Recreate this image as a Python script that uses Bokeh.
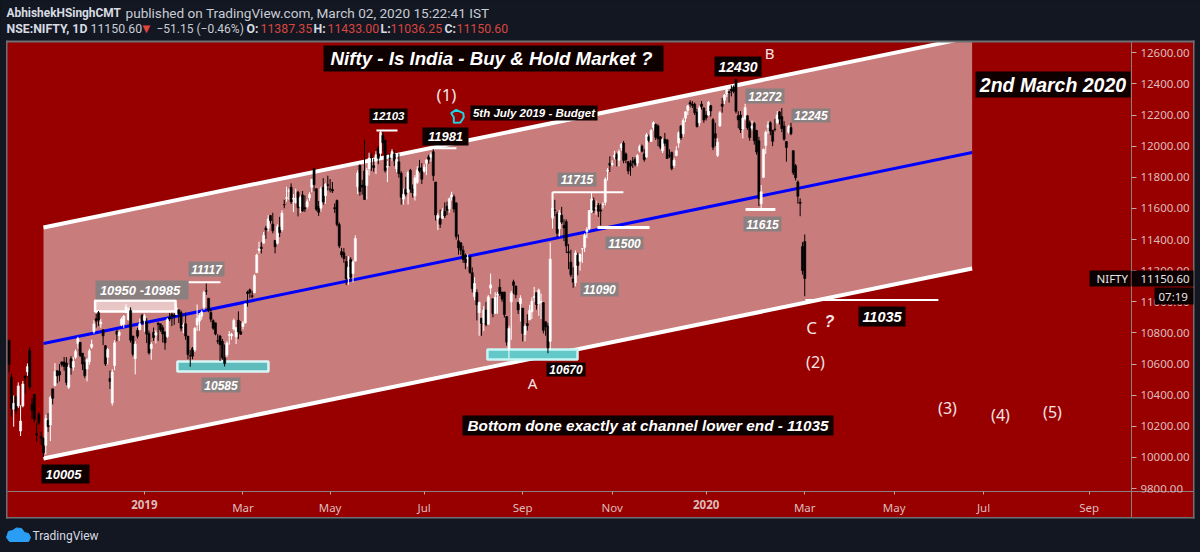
from bokeh.plotting import figure
from bokeh.embed import file_html
from bokeh.resources import INLINE
from bokeh.models import BoxAnnotation, Label, PolyAnnotation, FixedTicker, NumeralTickFormatter, ColumnDataSource, LinearAxis

opens = [10754,10514,10310,10391,10331,10170,10331,10524,10550,10688,10339,10405,10152,10278,10136,10122,10078,10239,10209,
10441,10462,10558,10552,10614,10614,10607,10451,10634,10580,10644,10731,10740,10670,10612,10568,10615,10708,10808,10892,
10930,10860,10820,10718,10644,10508,10350,10591,10810,10784,10853,10856,10931,10885,10944,10780,10635,10817,10821,10913,
10881,10868,10796,10699,10804,10786,10862,10859,10834,10807,10777,10899,10920,10914,10919,10949,10931,10844,10859,10780,10653,10702,10690,
10851,10876,10908,10965,11070,11023,10931,10879,10865,10750,10780,10746,10641,10658,10785,10782,10825,10775,10881,10808,
10842,10864,11063,11077,11039,11058,11187,11330,11351,11377,11474,11473,11554,11500,11395,11376,11481,11463,11625,
11665,11711,11736,11660,11638,11704,11612,11687,11605,11612,11668,11736,11856,11727,11612,11601,11735,11683,11752,
11725,11722,11605,11651,11496,11323,11315,11259,11152,11271,11181,11262,11739,11876,11749,11841,11748,11855,11929,11875,11905,11987,
11954,12069,12039,11865,11923,11929,11949,11855,11900,11826,11660,11722,11703,11845,11725,11681,11768,11860,11861,
11839,11890,11932,11928,11964,11770,11531,11536,11536,11582,11614,11596,11670,11675,11635,11392,11380,11331,11300,11279,11293,11187,11034,
11060,10930,10895,10864,10948,10856,11088,11020,10925,11044,11094,11063,11063,10905,10699,11000,11129,11102,10996,10987,
10960,10790,10860,10884,10936,11028,11059,10986,10996,10995,10872,10845,10746,11542,11590,11565,11470,11556,11491,
11515,11322,11255,11147,11122,11300,11260,11340,11350,11450,11470,11580,11650,11600,11620,11590,11625,11640,11840,11890,
11880,11930,11945,11910,11990,12020,11950,11900,11890,11905,11915,11890,11970,12000,11950,11930,12060,12030,12120,12140,
12130,12060,11970,12045,12040,11940,11960,11875,11940,12020,12130,12080,12180,12230,12280,12270,12270,12220,12150,12270,12245,
12200,12200,12260,12170,12080,11940,12130,12270,12295,12335,12350,12365,12380,12430,12195,12200,12110,12175,12195,12150,12115,12145,12100,
12035,11630,11800,12005,12120,12150,12100,12110,12150,12220,12190,12130,12030,12090,12120,11970,11875,11770,11640,11355,
11387]
highs = [10755,10540,10398,10397,10482,10335,10492,10526,10604,10710,10380,10408,10222,10290,10166,10128,10275,10285,10396,
10441,10606,10558,10600,10616,10646,10645,10596,10651,10646,10695,10775,10740,10671,10647,10638,10699,10757,10883,10922,
10941,10890,10821,10722,10704,10558,10567,10754,10821,10816,10900,10915,10985,10962,10964,10782,10747,10834,10893,10923,
10923,10895,10815,10741,10835,10818,10870,10859,10850,10808,10896,10928,10930,10928,10987,10949,10944,10866,10931,10780,10690,10710,10838,
10983,10928,10945,11072,11119,11023,10956,10888,10865,10792,10788,10762,10726,10747,10812,10801,10892,10829,10939,10876,
10877,10988,11072,11085,11071,11177,11310,11386,11383,11449,11488,11557,11556,11572,11395,11498,11546,11588,11655,
11739,11729,11761,11692,11727,11713,11683,11712,11684,11658,11704,11789,11856,11727,11648,11740,11795,11762,11810,
11789,11770,11632,11657,11510,11347,11345,11294,11294,11286,11267,11427,11845,11883,11784,12041,11860,11958,11957,11920,11968,12000,
12103,12095,12039,11905,11954,11981,11975,11952,11953,11839,11727,11803,11843,11854,11754,11814,11871,11912,11891,
11884,11917,11945,11961,11981,11770,11570,11593,11601,11639,11644,11670,11707,11689,11641,11432,11381,11360,11310,11305,11294,11221,11158,
11080,11000,10895,10973,11000,11044,11181,11020,11062,11064,11146,11064,11064,10908,10846,11071,11142,11102,10996,11042,
10960,10858,10920,10981,11028,11096,11059,11085,11053,10996,10874,10864,11381,11694,11655,11580,11590,11610,11530,
11530,11371,11335,11222,11330,11315,11310,11345,11440,11480,11590,11700,11670,11650,11635,11630,11640,11800,11860,11935,
11910,11970,11958,11980,12020,12034,11960,11905,11910,11930,11930,11950,12010,12010,11980,12085,12075,12110,12160,12145,
12140,12065,12050,12085,12045,11980,11965,11925,12000,12095,12135,12180,12225,12265,12295,12290,12280,12240,12260,12290,12250,
12225,12290,12265,12180,12150,12050,12225,12310,12335,12375,12355,12390,12390,12430,12225,12225,12190,12272,12200,12165,12165,12155,12105,
12060,11750,11985,12100,12160,12160,12105,12175,12225,12225,12245,12160,12030,12135,12150,11975,11885,11780,11665,11384,
11433]
lows = [10547,10262,10198,10279,10318,10138,10322,10410,10525,10436,10249,10224,10102,10210,10079,10004,10020,10164,10105,
10341,10457,10477,10489,10582,10557,10464,10440,10532,10557,10632,10700,10645,10562,10512,10489,10596,10699,10796,10835,
10845,10833,10722,10588,10599,10440,10333,10560,10747,10749,10844,10833,10928,10880,10738,10649,10534,10764,10817,10854,
10808,10735,10661,10628,10750,10733,10749,10808,10739,10692,10767,10876,10844,10852,10919,10864,10811,10798,10756,10631,10583,10631,10678,
10813,10814,10886,10947,11044,10933,10870,10820,10785,10730,10620,10628,10585,10644,10725,10757,10816,10729,10761,10789,
10823,10861,10969,11024,11023,11056,11186,11310,11311,11376,11404,11452,11503,11440,11311,11367,11416,11450,11601,
11644,11655,11629,11576,11630,11549,11570,11578,11577,11599,11648,11703,11710,11583,11552,11579,11624,11631,11714,
11703,11699,11571,11484,11345,11285,11251,11108,11109,11136,11125,11260,11692,11682,11688,11658,11658,11812,11841,11836,11821,11884,
11920,11967,11830,11769,11871,11905,11872,11832,11797,11625,11625,11677,11625,11701,11670,11651,11757,11830,11757,
11830,11814,11887,11901,11777,11523,11461,11475,11535,11538,11558,11573,11650,11574,11400,11303,11302,11250,11210,11226,11180,11060,11010,
10881,10782,10782,10813,10842,10854,11050,10901,10925,10924,11037,11000,10899,10718,10637,10756,11050,11022,10922,10874,
10746,10746,10816,10884,10890,11000,10950,10910,10890,10797,10782,10670,10691,11471,11550,11415,11420,11500,11390,
11313,11210,11158,11090,11100,11170,11200,11250,11320,11410,11460,11570,11570,11560,11545,11490,11600,11620,11780,11835,
11870,11915,11870,11870,11970,11890,11890,11820,11810,11860,11870,11870,11960,11960,11900,11925,12025,12030,12100,12040,
12000,11980,11955,12000,11920,11925,11845,11860,11935,11990,12040,12060,12155,12200,12250,12245,12200,12120,12130,12235,12150,
12165,12195,12190,11975,12000,11930,12125,12215,12270,12315,12280,12320,12340,12210,12115,12085,12050,12165,12105,12035,12100,12010,11945,
11615,11600,11795,11950,12080,12070,12000,12095,12140,12140,12090,12035,11900,12080,12070,11815,11780,11630,11550,11175,
11036]
closes = [10599,10316,10348,10301,10460,10234,10472,10512,10584,10453,10303,10245,10146,10224,10124,10030,10250,10198,10386,
10380,10553,10524,10530,10598,10585,10482,10582,10576,10616,10682,10763,10656,10600,10526,10628,10685,10728,10858,10876,
10883,10869,10782,10601,10693,10488,10549,10737,10791,10805,10888,10908,10967,10951,10754,10663,10729,10779,10859,10862,
10910,10792,10672,10727,10771,10802,10855,10821,10794,10737,10886,10890,10905,10906,10961,10922,10831,10849,10780,10661,10652,10651,10830,
10893,10912,10934,11062,11069,10943,10888,10831,10793,10746,10724,10640,10604,10735,10789,10792,10880,10835,10806,10792,
10863,10987,11053,11058,11035,11168,11301,11341,11343,11427,11462,11532,11521,11456,11354,11483,11445,11570,11623,
11669,11713,11643,11665,11665,11604,11671,11584,11597,11643,11690,11787,11752,11594,11575,11726,11641,11754,11748,
11724,11712,11598,11497,11359,11301,11278,11148,11222,11157,11257,11407,11828,11709,11737,11657,11844,11924,11928,11861,11945,11922,
12088,12021,11843,11870,11922,11965,11906,11914,11823,11672,11691,11691,11831,11724,11699,11796,11847,11841,11788,
11865,11910,11916,11946,11811,11558,11555,11498,11582,11552,11588,11662,11687,11596,11419,11346,11331,11271,11252,11284,11189,11085,11118,
10980,10997,10862,10948,10855,11032,11109,10925,11029,11047,11053,11017,10918,10741,10829,11057,11105,11046,10948,11023,
10797,10844,10847,10946,11003,11035,10982,11075,11003,10817,10840,10704,11274,11600,11588,11440,11571,11512,11474,
11359,11314,11174,11126,11313,11234,11305,11341,11428,11464,11586,11661,11588,11604,11582,11583,11627,11787,11844,11877,
11890,11941,11917,11966,12012,11908,11913,11840,11872,11895,11884,11940,11999,11968,11914,12073,12037,12100,12151,12056,
12048,11994,12043,12018,11921,11937,11856,11910,11971,12086,12053,12165,12221,12259,12271,12262,12214,12126,12245,12255,12168,
12182,12282,12226,11993,12052,12025,12215,12256,12329,12362,12343,12355,12352,12224,12169,12106,12180,12248,12119,12055,12129,12035,11962,
11661,11707,11979,12089,12137,12098,12031,12107,12201,12174,12113,12045,11992,12125,12080,11829,11797,11678,11633,11201,
11150]

price_ticks = [9800,10000,10200,10400,10600,10800,11000,11200,11400,11600,11800,12000,12200,12400,12600]
month_ticks = [102,140,181,224,263,347,386,425,471]
month_labels = ["Mar","May","Jul","Sep","Nov","Mar","May","Jul","Sep"]
year_ticks = [59,304]
year_labels = ["2019","2020"]

channel_x = [15,420]
channel_top = [11478,12702]
channel_mid = [10732,11959]
channel_low = [9994,11214]

level_x0 = [78.2,160.2,185.1,237,256.6,321.2,347.3]
level_x1 = [92.2,169.4,195.1,267.9,279.3,334.2,405.3]
level_price = [11126,12101,11987,11704,11478,11593,11012]
level_width = [2,2,2,2,3,3,2]

zone_x0 = [37.5,73.4,208.6]
zone_x1 = [72.6,113.1,247.9]
zone_low = [10938,10553,10630]
zone_high = [11009,10617,10694]
zone_fill = ["#e9c6c6","#5fbcbc","#62c8c8"]
zone_line = ["#ffffff","#d8f6f6","#c8f5f5"]

BG, PANE, PINK = "#131722", "#980000", "#c97c7c"
BLK, GRY = "#0f0000", "#8a8080"
AXC = "#8c8080"

# text, box x0,y0,x1,y1, background, size, text shift
boxed = [
 ("Nifty - Is India - Buy & Hold Market ?",323,45,663,71,BLK,18.7,-2),
 ("2nd March 2020",975,71,1130,97,BLK,19.5,0),
 ("5th July 2019 - Budget",470,105,597,120,BLK,11.5,0),
 ("12103",369,108,407,123,BLK,11.5,0),
 ("11981",422,127,468,145,BLK,13,0),
 ("12430",714,56,761,76,BLK,14,0),
 ("12272",745,88,784,103,GRY,12,0),
 ("12245",791,108,830,122,GRY,12,0),
 ("11715",557,172,596,186,GRY,12,0),
 ("11500",605,236,643,249,GRY,12,0),
 ("11615",743,216,781,231,GRY,12,0),
 ("11090",580,282,618,296,GRY,12,0),
 ("10670",546,362,585,376,BLK,12,0),
 ("10950 -10985",95,280,188,299,GRY,13,-2),
 ("11117",188,261,224,276,GRY,12,0),
 ("10585",201,377,240,392,GRY,12,0),
 ("10005",41,464,89,483,BLK,13,-2),
 ("11035",858,306,905,326,BLK,14.5,0),
 ("Bottom done exactly at channel lower end - 11035",462,415,833,435,BLK,15.3,0),
]
plain = [("(1)",446,94,17),("B",769,52,15),("A",532,382,15),("C",811,327,17),("(2)",815,361,16),("(3)",947,407,16),("(4)",1000,414,16),("(5)",1052,411,16)]
header = [
 ("AbhishekHSinghCMT",6,12,"#d8dbe2","bold",11.9),("published on TradingView.com, March 02, 2020 15:22:41 IST",125,12,"#c8ccd4","normal",13.6),
 ("NSE:NIFTY, 1D",6,28,"#d8dbe2","bold",12.3),("11150.60",90,28,"#c8ccd4","normal",12.3),("\u221251.15 (\u22120.46%)",156,28,"#c8ccd4","normal",12),
 ("O:",246,28,"#d8dbe2","bold",12.3),("11387.35",260,28,"#d9453f","normal",12.3),("H:",313,28,"#d8dbe2","bold",12.3),("11433.00",327,28,"#d9453f","normal",12.3),
 ("L:",380,28,"#d8dbe2","bold",12.3),("11036.25",390,28,"#d9453f","normal",12.3),("C:",444,28,"#d8dbe2","bold",12.3),("11150.60",456,28,"#d9453f","normal",12.3),
]
FONT = "Noto Sans"
HFONT = "Roboto"
BI = "Liberation Sans"

# The frame fills the canvas; the two axes sit at fixed locations inside it.
p = figure(width=1200, height=552, output_backend="svg", toolbar_location=None,
           x_axis_type=None, y_axis_type=None,
           x_range=(-3.75,519.6), y_range=(9389.7,12935.8), min_border=0, min_border_left=0, min_border_right=0,
           min_border_top=0, min_border_bottom=0, background_fill_color=BG, border_fill_color=BG, outline_line_color=None)
p.grid.visible = False

def canvas_box(x0,y0,x1,y1,**kw):
    return BoxAnnotation(left=x0,right=x1,top=y0,bottom=y1,left_units="canvas",right_units="canvas",top_units="canvas",bottom_units="canvas",**kw)

p.add_layout(canvas_box(6.5,41,1193,517,fill_color=PANE,fill_alpha=1,line_color=None,level="underlay"))

def style_axis(ax):
    ax.axis_line_color = AXC
    ax.major_tick_line_color = "#c0a8a8"
    ax.minor_tick_line_color = None
    ax.major_label_text_color = "#dcbcbc"
    ax.major_label_text_font = FONT
    ax.major_label_text_font_size = "11.5px"
    return ax

yax = style_axis(LinearAxis(ticker=FixedTicker(ticks=price_ticks),formatter=NumeralTickFormatter(format="0.00"),
     fixed_location=489.5,bounds=(9614.5,12672.6),major_tick_out=5,major_tick_in=0,major_label_standoff=4))
p.add_layout(yax,"right")
xax = style_axis(LinearAxis(ticker=FixedTicker(ticks=month_ticks),major_label_overrides=dict(zip(month_ticks,month_labels)),
     fixed_location=9781.6,bounds=(-0.7,516.5),major_tick_out=3,major_tick_in=0,major_label_standoff=6))
p.add_layout(xax,"below")
yrax = style_axis(LinearAxis(ticker=FixedTicker(ticks=year_ticks),major_label_overrides=dict(zip(year_ticks,year_labels)),
     fixed_location=9781.6,bounds=(-0.7,516.5),major_tick_out=3,major_tick_in=0,major_label_standoff=6))
yrax.major_label_text_font_style = "bold"
p.add_layout(yrax,"below")

p.varea(x=channel_x,y1=channel_low,y2=channel_top,color=PINK)
p.line(channel_x,channel_top,line_color="white",line_width=4)
p.line(channel_x,channel_low,line_color="white",line_width=4)
p.line(channel_x,channel_mid,line_color="#0000ff",line_width=3)

p.quad(left=zone_x0,right=zone_x1,bottom=zone_low,top=zone_high,fill_color=zone_fill,line_color=zone_line,line_width=2.5)
idx = list(range(len(closes)))
src = ColumnDataSource(dict(x=idx,o=opens,h=highs,l=lows,c=closes,
     col=["#ffffff" if c>=o else "#000000" for o,c in zip(opens,closes)]))
p.segment("x","h","x","l",source=src,line_color="col",line_width=1)
p.vbar(x="x",top="o",bottom="c",width=0.9,source=src,fill_color="col",line_color="col",line_width=0.6)

p.segment(x0=level_x0,y0=level_price,x1=level_x1,y1=level_price,line_color="white",line_width=level_width)
p.segment(x0=[237],y0=[11704],x1=[237],y1=[11536],line_color="white",line_width=2)

def clabel(text,x,y,color,size,font=FONT,style="normal",align="left"):
    p.add_layout(Label(x=x,y=y,x_units="canvas",y_units="canvas",text=text,text_color=color,text_font=font,
        text_font_size=f"{size}px",text_font_style=style,text_align=align,text_baseline="middle"))
def cbox(x0,y0,x1,y1,color):
    p.add_layout(canvas_box(x0,y0,x1,y1,fill_color=color,fill_alpha=1,line_color=None))

# header band hides what runs past the pane top; pane frame lines go on top of it
cbox(0,0,1200,41,BG)
cbox(6,40,1194,42,"#6f7073")
cbox(5.5,40,7,518,"#6f7073")
cbox(1192.5,40,1194,518,"#6f7073")
cbox(5.5,516.5,1194,518,"#6f7073")
cbox(1132,492,1192.5,516.5,PANE)   # the time-axis band cuts off the lowest price label

p.add_layout(PolyAnnotation(xs=[450.7,455.7,462.7,463.3,460,453.3,453.3],ys=[112.7,109.3,112.7,116.7,122,122.3,116.7],
    xs_units="canvas",ys_units="canvas",fill_alpha=0,line_color="#1fd5e5",line_alpha=1,line_width=2))

for t,x0,y0,x1,y1,bg,s,dx in boxed:
    cbox(x0,y0,x1,y1,bg)
    clabel(t,(x0+x1)/2+dx,(y0+y1)/2,"white",s,BI,"bold italic","center")
for t,x,y,s in plain:
    clabel(t,x,y,"#f5e5e5",s,FONT,"normal","center")
clabel("?",829,321,"#f5e5e5",16,BI,"bold italic","center")

cbox(1089,270,1130,286,"#0c0000")
clabel("NIFTY",1096,278,"#e6e6e6",11.5)
cbox(1131,270,1193,286,"#0c0000")
clabel("11150.60",1140,278,"#e6e6e6",11.5)
cbox(1154,287,1193,304,"#0c0000")
clabel("07:19",1158,296,"#e6e6e6",11.5)

for t,x,y,c,st,sz in header:
    clabel(t,x,y,c,sz,HFONT,st)
clabel("\u25bc",142,28,"#e0453f",10,"DejaVu Sans")

p.add_layout(PolyAnnotation(xs=[6,8,12,16,21,24,28,30,28,9],ys=[537,531,530,527.5,528,532,533,537,541,541],
    xs_units="canvas",ys_units="canvas",fill_color="#2a9df4",fill_alpha=1,line_color="#2a9df4",line_alpha=1))
clabel("TradingView",32,535,"#d8dbe2",12,HFONT)

html = file_html(p, INLINE, title="NIFTY")
html = html.replace("<head>","<head><style>html,body{margin:0;padding:0;background:#131722;overflow:hidden}</style>",1)
open("out.html","w").write(html)
